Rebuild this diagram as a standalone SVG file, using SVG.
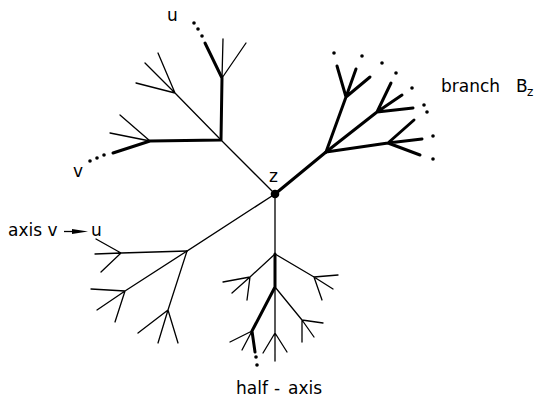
<svg xmlns="http://www.w3.org/2000/svg" width="537" height="400" viewBox="0 0 537 400">
<style>
.t{stroke:#000;stroke-width:1.3;fill:none;stroke-linecap:round}
.k{stroke:#000;stroke-width:3;fill:none;stroke-linecap:round;stroke-linejoin:round}
.d{fill:#000}
text{font-family:"DejaVu Sans",sans-serif;font-size:17px;fill:#000}
</style>
<rect width="537" height="400" fill="#fff"/>
<g id="connectors">
<!-- upper-left subtree -->
<path class="t" d="M275,194 L221,140 L175,93 M175,93 L158,53 M175,93 L145,63 M175,93 L136,83"/>
<path class="t" d="M222,78 L223,39 M222,78 L246,43"/>
<path class="t" d="M150,141 L120,115 M150,141 L110,133"/>
<path class="k" d="M205,43 L222,78 L221,140 L150,141 L113,153"/>
<!-- branch Bz -->
<path class="k" d="M275,194 L326,152 L346,97 M346,97 L337,66 M346,97 L356,69 M346,97 L370,77"/>
<path class="k" d="M326,152 L377,112 M377,112 L391,83 M377,112 L402,95 M377,112 L413,108"/>
<path class="k" d="M326,152 L388,143 M388,143 L414,120 M388,143 L422,139 M388,143 L420,155"/>
<!-- lower-left subtree -->
<path class="t" d="M275,194 L187,251 L121,253 M121,253 L96,239 M121,253 L95,254 M121,253 L101,272"/>
<path class="t" d="M187,251 L125,291 M125,291 L91,289 M125,291 L97,310 M125,291 L115,322"/>
<path class="t" d="M187,251 L168,310 M168,310 L138,333 M168,310 L158,343 M168,310 L178,343"/>
<!-- half-axis subtree -->
<path class="t" d="M275,194 L275,254 M275,254 L250,277 M250,277 L223,282 M250,277 L232,293 M250,277 L247,300"/>
<path class="t" d="M275,254 L314,277 M314,277 L338,275 M314,277 L333,289 M314,277 L322,300"/>
<path class="t" d="M275,287 L275,361 M275,333 L263,353 M275,333 L287,352"/>
<path class="t" d="M275,287 L302,320 M302,320 L323,323 M302,320 L314,337 M302,320 L302,342"/>
<path class="t" d="M252,331 L230,342 M252,331 L242,350"/>
<path class="k" d="M275,254 L275,287 L252,331 L255,352"/>
</g>
<g id="dots">
<circle class="d" cx="194" cy="23" r="1.8"/>
<circle class="d" cx="198" cy="29" r="1.8"/>
<circle class="d" cx="202" cy="36" r="1.8"/>
<circle class="d" cx="90" cy="161" r="1.8"/>
<circle class="d" cx="97" cy="158" r="1.8"/>
<circle class="d" cx="104" cy="155" r="1.8"/>
<circle class="d" cx="334" cy="53" r="1.8"/>
<circle class="d" cx="362" cy="56" r="1.8"/>
<circle class="d" cx="382" cy="63" r="1.8"/>
<circle class="d" cx="396" cy="73" r="1.8"/>
<circle class="d" cx="412" cy="88" r="1.8"/>
<circle class="d" cx="424" cy="105" r="1.8"/>
<circle class="d" cx="427" cy="112" r="1.8"/>
<circle class="d" cx="433" cy="136" r="1.8"/>
<circle class="d" cx="433" cy="159" r="1.8"/>
<circle class="d" cx="256" cy="357" r="1.8"/>
<circle class="d" cx="257" cy="365" r="1.8"/>
</g>
<g id="node-z">
<circle cx="275" cy="194" r="4.3" fill="#000"/>
<text x="269" y="182">z</text>
</g>
<g id="node-u"><text x="167" y="21">u</text></g>
<g id="node-v"><text x="73" y="177">v</text></g>
<g id="label-branch"><text x="441" y="92">branch<tspan x="516">B</tspan><tspan x="527" y="96" font-size="12">z</tspan></text></g>
<g id="label-axis">
<text x="8" y="236">axis v</text>
<line x1="64" y1="231.5" x2="78" y2="231.5" stroke="#000" stroke-width="1.3"/>
<polygon points="72,229 88,231.5 72,234" fill="#000"/>
<text x="91" y="236">u</text>
</g>
<g id="label-half-axis"><text x="236" y="394">half<tspan x="274">-</tspan><tspan x="288">axis</tspan></text></g>
</svg>
